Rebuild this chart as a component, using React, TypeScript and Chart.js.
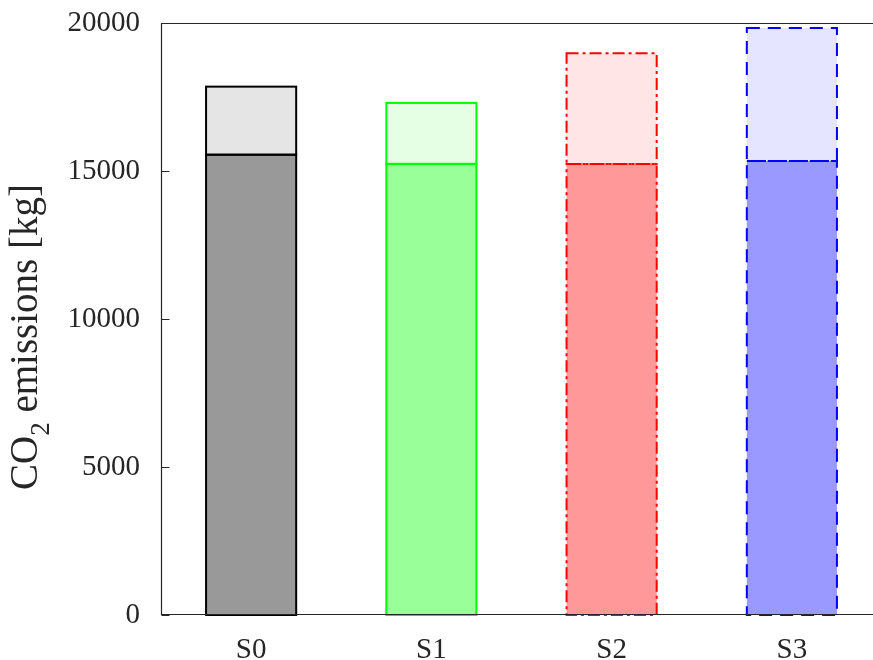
import React, { useEffect, useRef } from 'react';
import { Chart, registerables } from 'chart.js';

Chart.register(...registerables);

const categories = ['S0', 'S1', 'S2', 'S3'];
const baseValues = [15550, 15240, 15240, 15340];
const totalValues = [17850, 17300, 18980, 19830];
const topValues = totalValues.map((t, i) => t - baseValues[i]);
const yMin = 0;
const yMax = 20000;
const yStep = 5000;

const baseFill = ['#999999', '#99ff99', '#ff9999', '#9999ff'];
const topFill = ['#e5e5e5', '#e5ffe5', '#ffe5e5', '#e5e5ff'];
const edgeColors = ['#000000', '#00ff00', '#ff0000', '#0000ff'];
const edgeDash: number[][] = [[], [], [12, 4, 3, 4], [13, 8]];

const FONT = "'Liberation Serif', 'Times New Roman', serif";
const AXIS_COLOR = '#262626';

const outlinePlugin = {
  id: 'outlineAndAxes',
  afterDatasetsDraw(chart: any) {
    const ctx = chart.ctx;
    ctx.save();
    chart.data.datasets.forEach((_: any, di: number) => {
      const meta = chart.getDatasetMeta(di);
      meta.data.forEach((bar: any, j: number) => {
        const p = bar.getProps(['x', 'y', 'base', 'width'], true);
        const top = Math.min(p.y, p.base);
        const h = Math.abs(p.base - p.y);
        ctx.strokeStyle = edgeColors[j];
        ctx.lineWidth = 2;
        ctx.setLineDash(edgeDash[j]);
        ctx.lineJoin = 'miter';
        ctx.strokeRect(p.x - p.width / 2, top, p.width, h);
      });
    });
    ctx.setLineDash([]);
    const a = chart.chartArea;
    const L = Math.round(a.left) + 0.5;
    const R = Math.round(a.right) - 0.5;
    const T = Math.round(a.top) + 0.5;
    const B = Math.round(a.bottom) - 0.5;
    ctx.strokeStyle = AXIS_COLOR;
    ctx.lineWidth = 1.2;
    ctx.beginPath();
    ctx.moveTo(L, T);
    ctx.lineTo(R, T);
    ctx.lineTo(R, B);
    ctx.lineTo(L, B);
    ctx.closePath();
    ctx.stroke();
    const ys = chart.scales.y;
    ctx.beginPath();
    ys.ticks.forEach((t: any) => {
      const py = Math.round(ys.getPixelForValue(t.value)) + 0.5;
      ctx.moveTo(L, py);
      ctx.lineTo(L + 8, py);
      ctx.moveTo(R, py);
      ctx.lineTo(R - 8, py);
    });
    ctx.stroke();
    ctx.restore();
  },
};

const yTitlePlugin = {
  id: 'yTitle',
  afterDraw(chart: any) {
    const ctx = chart.ctx;
    const main = 39;
    const sub = 27;
    const parts = [
      { text: 'CO', size: main, dy: 0 },
      { text: '2', size: sub, dy: 12 },
      { text: ' emissions [kg]', size: main, dy: 0 },
    ];
    ctx.save();
    let total = 0;
    const widths = parts.map((p) => {
      ctx.font = `${p.size}px ${FONT}`;
      const w = ctx.measureText(p.text).width;
      total += w;
      return w;
    });
    const cy = 337;
    ctx.translate(37, cy);
    ctx.rotate(-Math.PI / 2);
    ctx.fillStyle = AXIS_COLOR;
    ctx.textBaseline = 'alphabetic';
    ctx.textAlign = 'left';
    let x = -total / 2;
    parts.forEach((p, i) => {
      ctx.font = `${p.size}px ${FONT}`;
      ctx.fillText(p.text, x, p.dy);
      x += widths[i];
    });
    ctx.restore();
  },
};

export default function App() {
  const ref = useRef<HTMLCanvasElement | null>(null);
  useEffect(() => {
    if (!ref.current) return;
    const chart = new Chart(ref.current, {
      type: 'bar',
      data: {
        labels: categories,
        datasets: [
          {
            label: 'base',
            data: baseValues,
            backgroundColor: baseFill,
            borderWidth: 0,
            categoryPercentage: 1,
            barPercentage: 0.5,
          },
          {
            label: 'top',
            data: topValues,
            backgroundColor: topFill,
            borderWidth: 0,
            categoryPercentage: 1,
            barPercentage: 0.5,
          },
        ],
      },
      options: {
        responsive: false,
        animation: false,
        devicePixelRatio: 1,
        layout: { padding: { left: 0, top: 23, right: 8, bottom: 0 } },
        plugins: {
          legend: { display: false },
          tooltip: { enabled: false },
          title: { display: false },
        },
        scales: {
          x: {
            stacked: true,
            grid: { display: false },
            border: { display: false },
            ticks: {
              color: AXIS_COLOR,
              font: { family: FONT, size: 29 },
              padding: 10,
              maxRotation: 0,
            },
            afterFit: (s: any) => {
              s.height = 45;
              s.paddingLeft = 0;
              s.paddingRight = 0;
            },
          },
          y: {
            stacked: true,
            min: yMin,
            max: yMax,
            grid: { display: false },
            border: { display: false },
            ticks: {
              stepSize: yStep,
              color: AXIS_COLOR,
              font: { family: FONT, size: 29 },
              padding: 13,
              callback: (v: any) => String(v),
            },
            afterFit: (s: any) => {
              s.width = 161;
              s.paddingTop = 0;
              s.paddingBottom = 0;
            },
          },
        },
      },
      plugins: [outlinePlugin, yTitlePlugin],
    });
    return () => chart.destroy();
  }, []);
  return (
    <div
      style={{
        position: 'fixed',
        left: 0,
        top: 0,
        width: 873,
        height: 660,
        overflow: 'hidden',
        background: '#ffffff',
      }}
    >
      <canvas ref={ref} width={890} height={660} style={{ display: 'block' }} />
    </div>
  );
}
